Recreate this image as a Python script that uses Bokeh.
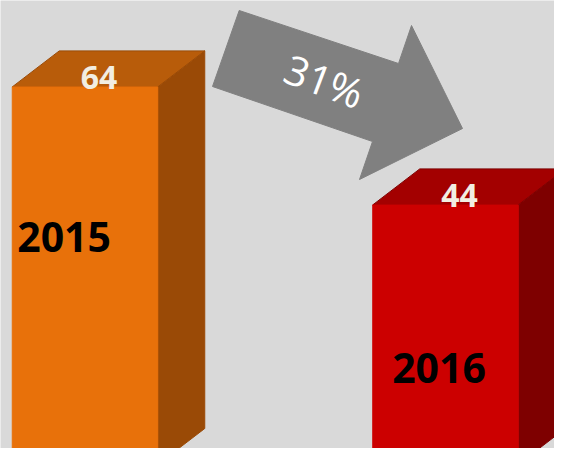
from bokeh.plotting import figure
from bokeh.models import Range1d, ColumnDataSource
from bokeh.core.properties import value
from bokeh.embed import file_html
from bokeh.resources import INLINE

# ---- data ----
categories = ["2015", "2016"]
values = [64, 44]
change_label = "31%"

# ---- styling / layout ----
front_colors = ["#E8710A", "#CC0000"]
top_colors = ["#B85C0A", "#A30000"]
side_colors = ["#9A4A06", "#7E0000"]
BG = "#D9D9D9"

SX = 360.5   # px per category unit
SY = 5.9     # px per value unit
HALF_W = 72.75 / SX
DX = 47 / SX
DY = 36 / SY
TXT_SHIFT = 13 / SY   # baseline correction

def fx(X):  # reference pixel -> data x
    return (X - 84.5) / SX

def fy(Y):  # reference pixel -> data y
    return (464 - Y) / SY

p = figure(width=554, height=448, output_backend="svg", toolbar_location=None,
           x_range=Range1d(fx(0), fx(554)), y_range=Range1d(fy(448), fy(0)),
           min_border=0)
p.axis.visible = False
p.grid.visible = False
p.outline_line_color = None
p.background_fill_color = BG
p.border_fill_color = BG

xs_front, ys_front, xs_top, ys_top, xs_side, ys_side = [], [], [], [], [], []
for i, v in enumerate(values):
    x0, x1 = i - HALF_W, i + HALF_W
    xs_front.append([x0, x1, x1, x0]); ys_front.append([0, 0, v, v])
    xs_top.append([x0, x0 + DX, x1 + DX, x1]); ys_top.append([v, v + DY, v + DY, v])
    xs_side.append([x1, x1, x1 + DX, x1 + DX]); ys_side.append([0, v, v + DY, DY])

p.patches(xs_side, ys_side, fill_color=side_colors, line_color=side_colors, line_width=1)
p.patches(xs_top, ys_top, fill_color=top_colors, line_color=side_colors, line_width=1)
p.patches(xs_front, ys_front, fill_color=front_colors, line_color=front_colors, line_width=1)

# value labels on the top faces
val_src = ColumnDataSource(dict(x=[i + 0.039 for i in range(len(values))],
                                y=[v - 0.55 + TXT_SHIFT for v in values],
                                t=[str(v) for v in values]))
p.text(x="x", y="y", text="t", source=val_src, text_font=value("Open Sans"),
       text_font_style="bold", text_font_size="32px", text_color="#F2EEE2",
       text_align="center", text_baseline="alphabetic")

# category labels inside the bars
cat_x_off = [-0.058, -0.018]
cat_y = [36.3, 14.2]
cat_src = ColumnDataSource(dict(x=[i + o for i, o in enumerate(cat_x_off)],
                                y=[c + TXT_SHIFT for c in cat_y], t=categories))
p.text(x="x", y="y", text="t", source=cat_src, text_font=value("Open Sans"),
       text_font_style="bold", text_font_size="41px", text_color="#000000",
       text_align="center", text_baseline="alphabetic")

# change arrow
arrow_px = [(238.7, 10), (398, 63), (411, 25), (462, 128), (359, 179), (372, 141), (212, 86)]
p.patch([fx(a) for a, b in arrow_px], [fy(b) for a, b in arrow_px],
        fill_color="#808080", line_color="#808080")
p.text(x=[fx(324)], y=[fy(80)], text=[change_label], angle=-0.36,
       text_font=value("Open Sans"), text_font_size="41px", text_color="#FFFFFF",
       text_align="center", text_baseline="middle")

open("out.html", "w").write(file_html(p, INLINE))
